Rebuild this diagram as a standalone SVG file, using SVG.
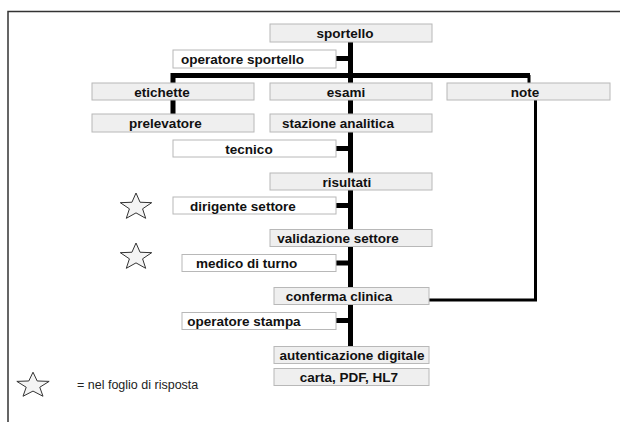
<svg xmlns="http://www.w3.org/2000/svg" xmlns:xlink="http://www.w3.org/1999/xlink" width="620" height="422" viewBox="0 0 620 422">
<style>
  .g rect { fill: #efefef; stroke: #b8b8b8; stroke-width: 1; }
  .w rect { fill: #ffffff; stroke: #b8b8b8; stroke-width: 1; }
  text { font-family: "Liberation Sans", Arial, sans-serif; font-size: 13.5px; font-weight: bold; fill: #111; text-anchor: middle; }
  .legend { font-weight: normal; font-size: 12.5px; text-anchor: start; fill: #222; }
  .thick { stroke: #000; stroke-width: 5; fill: none; }
  .thin { stroke: #000; stroke-width: 3; fill: none; }
  .starshape { fill: #f4f4f4; stroke: #333; stroke-width: 1; vector-effect: non-scaling-stroke; }
</style>
<defs>
  <polygon id="star" class="starshape" points="0,-1 0.247,-0.34 0.951,-0.309 0.399,0.13 0.588,0.809 0,0.42 -0.588,0.809 -0.399,0.13 -0.951,-0.309 -0.247,-0.34"/>
</defs>
<rect x="0" y="0" width="620" height="422" fill="#ffffff"/>
<path d="M8,422 V11.5 H620" fill="none" stroke="#333" stroke-width="1.5"/>

<g id="connectors">
  <line class="thick" x1="350.5" y1="42" x2="350.5" y2="347"/>
  <polyline class="thick" points="173,114 173,75.5 530,75.5"/>
  <line class="thin" x1="529" y1="75" x2="529" y2="83"/>
  <polyline class="thin" points="535.5,100 535.5,300 429,300"/>
  <line class="thick" x1="336" y1="58.5" x2="350" y2="58.5"/>
  <line class="thick" x1="336" y1="148.5" x2="350" y2="148.5"/>
  <line class="thick" x1="336" y1="205.5" x2="350" y2="205.5"/>
  <line class="thick" x1="336" y1="263" x2="350" y2="263"/>
  <line class="thick" x1="336" y1="320.5" x2="350" y2="320.5"/>
</g>

<g id="sportello" class="g"><rect x="270" y="24" width="162" height="18"/><text x="345" y="38">sportello</text></g>
<g id="operatore-sportello" class="w"><rect x="173" y="50" width="163" height="18"/><text x="242.5" y="64">operatore sportello</text></g>
<g id="etichette" class="g"><rect x="92" y="83" width="162" height="17"/><text x="162" y="96.5">etichette</text></g>
<g id="esami" class="g"><rect x="270" y="83" width="162" height="17"/><text x="346" y="96.5">esami</text></g>
<g id="note" class="g"><rect x="447" y="83" width="163" height="17"/><text x="525" y="96.5">note</text></g>
<g id="prelevatore" class="g"><rect x="92" y="114" width="162" height="18"/><text x="165.5" y="128">prelevatore</text></g>
<g id="stazione-analitica" class="g"><rect x="270" y="114" width="162" height="18"/><text x="338" y="128">stazione analitica</text></g>
<g id="tecnico" class="w"><rect x="173" y="140" width="163" height="17"/><text x="249" y="153.5">tecnico</text></g>
<g id="risultati" class="g"><rect x="270" y="173" width="162" height="17"/><text x="347" y="186.5">risultati</text></g>
<g id="dirigente-settore" class="w"><rect x="173" y="197" width="163" height="17"/><text x="243" y="210.5">dirigente settore</text></g>
<g id="validazione-settore" class="g"><rect x="270" y="229.5" width="162" height="17"/><text x="338" y="243">validazione settore</text></g>
<g id="medico-di-turno" class="w"><rect x="182" y="254.5" width="154" height="17"/><text x="246.5" y="268">medico di turno</text></g>
<g id="conferma-clinica" class="g"><rect x="274" y="287.5" width="155" height="17"/><text x="339" y="301">conferma clinica</text></g>
<g id="operatore-stampa" class="w"><rect x="182" y="312.5" width="154" height="17"/><text x="244" y="326">operatore stampa</text></g>
<g id="autenticazione-digitale" class="g"><rect x="274" y="346.5" width="155" height="17"/><text x="352" y="360">autenticazione digitale</text></g>
<g id="carta-pdf-hl7" class="g"><rect x="274" y="368.5" width="155" height="17"/><text x="349" y="382">carta, PDF, HL7</text></g>

<g id="stars">
  <use xlink:href="#star" transform="translate(136,207) scale(16.5,14)"/>
  <use xlink:href="#star" transform="translate(136,257) scale(16.5,14)"/>
  <use xlink:href="#star" transform="translate(33,385.5) scale(17,13.3)"/>
</g>
<g id="legend"><text class="legend" x="77" y="389">= nel foglio di risposta</text></g>
</svg>
